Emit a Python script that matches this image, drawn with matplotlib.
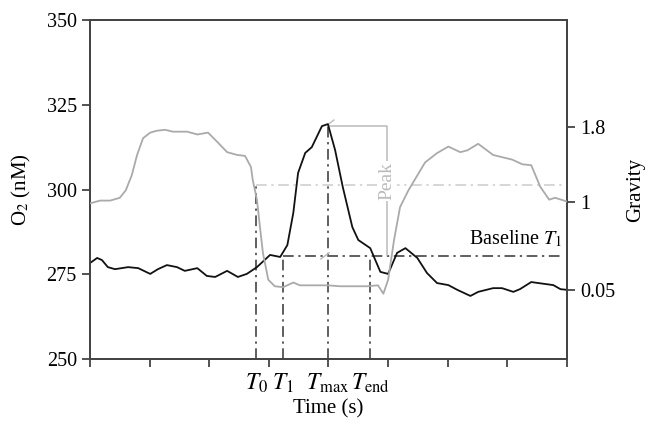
import matplotlib
matplotlib.use("Agg")
import matplotlib.pyplot as plt

plt.rcParams['font.family'] = ['Liberation Serif', 'DejaVu Serif']
plt.rcParams['mathtext.fontset'] = 'stix'

# black curve: O2 (nM) against time (tick units)
o2_t = [0.00, 0.12, 0.20, 0.30, 0.42, 0.64, 0.81, 1.01, 1.14, 1.29, 1.46, 1.59, 1.80, 1.96,
        2.10, 2.30, 2.48, 2.63, 2.80, 3.02, 3.19, 3.31, 3.41, 3.49, 3.61, 3.72, 3.89, 3.99,
        4.11, 4.24, 4.40, 4.50, 4.70, 4.87, 5.00, 5.15, 5.29, 5.49, 5.65, 5.82, 6.01, 6.16,
        6.38, 6.51, 6.76, 6.91, 7.10, 7.21, 7.40, 7.52, 7.77, 7.89, 8.00]
o2 = [278.3, 279.8, 279.2, 277.1, 276.5, 277.1, 276.8, 275.1, 276.5, 277.7, 277.1, 276.0, 276.8, 274.5,
      274.2, 276.0, 274.2, 275.1, 277.1, 280.7, 280.1, 283.6, 293.1, 304.9, 310.8, 312.5, 318.7, 319.3,
      311.7, 300.7, 288.9, 285.1, 282.7, 275.7, 275.1, 281.3, 282.7, 279.8, 275.4, 272.4, 271.8, 270.4,
      268.6, 269.8, 270.9, 270.9, 269.8, 270.6, 272.7, 272.4, 271.8, 270.6, 270.4]

# grey curve: gravity against time
g_t = [0.00, 0.17, 0.34, 0.50, 0.60, 0.70, 0.79, 0.89, 1.01, 1.12, 1.26, 1.39, 1.63, 1.80, 1.98,
       2.15, 2.30, 2.47, 2.60, 2.70, 2.73, 2.80, 2.85, 2.90, 2.99, 3.10, 3.24, 3.41, 3.52, 3.81,
       3.99, 4.19, 4.65, 4.83, 4.92, 5.00, 5.10, 5.20, 5.34, 5.62, 5.82, 6.01, 6.21, 6.33, 6.51,
       6.76, 7.08, 7.25, 7.40, 7.55, 7.70, 7.80, 8.00]
grav = [0.98, 1.01, 1.01, 1.04, 1.12, 1.28, 1.50, 1.68, 1.74, 1.76, 1.77, 1.75, 1.75, 1.72, 1.74,
        1.63, 1.53, 1.50, 1.49, 1.37, 1.23, 1.02, 0.73, 0.45, 0.16, 0.09, 0.08, 0.13, 0.10, 0.10,
        0.10, 0.09, 0.09, 0.10, 0.01, 0.16, 0.59, 0.94, 1.12, 1.42, 1.52, 1.59, 1.53, 1.55, 1.62,
        1.50, 1.45, 1.40, 1.39, 1.16, 1.02, 1.04, 1.00]

marks = [2.79, 3.23, 3.99, 4.70]
mark_labels = ['$T_0$', '$T_1$', '$T_{\\mathrm{max}}$', '$T_{\\mathrm{end}}$']
baseline = 280.4
peak = 319.3
grey_level = 301.3
bracket_x = 4.98

spine_c = '#444444'
dd_c = '#333333'
dd = (0, (7, 3, 1.5, 3))

fig = plt.figure(figsize=(6.51, 4.26), dpi=100)
ax = fig.add_axes([0.1382, 0.1573, 0.7328, 0.7957])
ax2 = ax.twinx()

ax.plot(o2_t, o2, color='#111111', lw=1.3, zorder=5)
ax2.plot(g_t, grav, color='#aaaaaa', lw=1.3, zorder=4)

# dash-dot guides
ax.plot([marks[0], 8], [grey_level, grey_level], color='#cccccc', lw=1.1, ls=dd)
ax.plot([marks[0], marks[0]], [250, grey_level], color=dd_c, lw=1.1, ls=dd)
ax.plot([marks[1], marks[1]], [250, baseline], color=dd_c, lw=1.1, ls=dd)
ax.plot([marks[1], 7.92], [baseline, baseline], color=dd_c, lw=1.1, ls=dd)
ax.plot([marks[2], marks[2]], [250, peak], color=dd_c, lw=1.1, ls=dd)
ax.plot([marks[3], marks[3]], [250, baseline], color=dd_c, lw=1.1, ls=dd)

# peak bracket
ax.plot([marks[2] + 0.03, bracket_x, bracket_x], [318.6, 318.6, baseline + 0.3],
        color='#bbbbbb', lw=1.1)
ax.plot([marks[2] + 0.02, marks[2] + 0.1], [319.4, 320.5], color='#bbbbbb', lw=1.0)
ax.plot([marks[2] - 0.12, marks[2] + 0.02], [279.5, 281.3], color='#bbbbbb', lw=1.0)
ax.text(bracket_x, 302.5, 'Peak', rotation=90, ha='center', va='center', fontsize=14,
        color='#bbbbbb', bbox=dict(facecolor='white', edgecolor='none', pad=1))

ax.text(7.92, 285.5, 'Baseline $T_1$', ha='right', va='center', fontsize=14.5)

ax.set_xlim(0, 8)
ax.set_ylim(250, 350)
ax.set_yticks([250, 275, 300, 325, 350])
ax.set_xticks(range(9))
ax.set_xticklabels([])
ax.set_xticks(marks, minor=True)
ax.set_xticklabels(mark_labels, minor=True, fontsize=17)
ax.tick_params(axis='x', which='minor', length=0, pad=9)
ax.tick_params(axis='x', which='major', length=6, width=1.3, color=spine_c)
ax.tick_params(axis='y', length=6, width=1.3, color=spine_c, labelsize=14.5)

ax2.set_ylim(-0.691, 2.949)
ax2.set_yticks([0.05, 1, 1.8])
ax2.set_yticklabels(['0.05', '1', '1.8'])
ax2.tick_params(axis='y', length=6, width=1.3, color=spine_c, labelsize=14.5)

for a in (ax, ax2):
    for s in a.spines.values():
        s.set_color(spine_c)
        s.set_linewidth(1.3)

ax.set_xlabel('Time (s)', fontsize=15, labelpad=3)
ax.set_ylabel('O$_2$ (nM)', fontsize=15, labelpad=10)
ax2.set_ylabel('Gravity', fontsize=15, labelpad=8)

fig.savefig('out.png', dpi=100)
